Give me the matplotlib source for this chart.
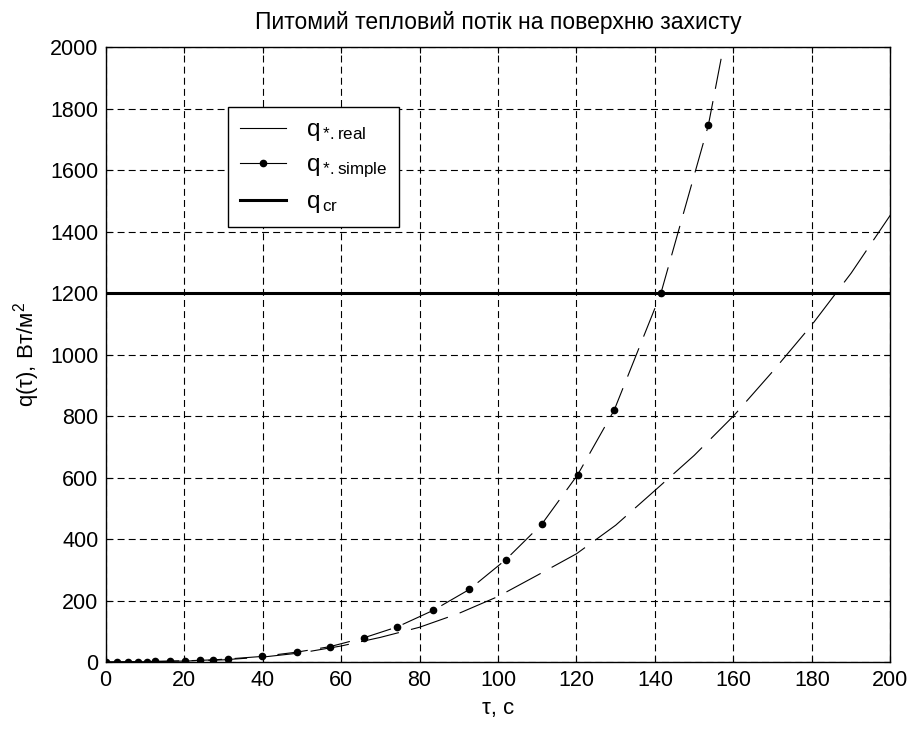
import numpy as np
import matplotlib
matplotlib.use('Agg')
import matplotlib.pyplot as plt
from matplotlib.lines import Line2D

# values
tau_simple = [0, 2.9, 5.8, 8.4, 10.5, 12.6, 16.4, 20.3, 24.1, 27.5, 31.3, 39.8,
              48.7, 57.2, 65.9, 74.3, 83.5, 92.7, 102.0, 111.2, 120.3, 129.6,
              141.5, 153.6, 165.7]
q_simple = [0, 0.3, 0.7, 1, 1.5, 2, 3, 4, 5.5, 7, 10, 18,
            32, 50, 79, 114, 168, 236, 333, 449, 609, 819,
            1199, 1746, 2550]

tau_real = [0, 10, 20, 30, 40, 50, 60, 70, 80, 90, 100, 110, 120, 130, 140,
            150, 160, 170, 180, 190, 200]
q_real = [0, 1, 3, 7, 16, 30, 52, 80, 113, 158, 213, 282, 352, 445, 558,
          672, 800, 945, 1097, 1265, 1454]

q_cr = 1200

x_ticks = list(range(0, 201, 20))
y_ticks = list(range(0, 2001, 200))

plt.rcParams['font.family'] = ['Liberation Sans', 'DejaVu Sans']
plt.rcParams['mathtext.default'] = 'regular'
plt.rcParams['lines.scale_dashes'] = False

fig = plt.figure(figsize=(9.12, 7.29), dpi=100)
ax = fig.add_axes([0.1157, 0.0919, 0.8607, 0.8436])

ax.plot(tau_real, q_real, color='black', lw=0.8, linestyle=(0, (28, 9)))
ax.plot(tau_simple, q_simple, color='black', lw=0.8, linestyle=(0, (22, 9)),
        marker='o', markersize=4.5)
ax.axhline(q_cr, color='black', lw=2.2)

ax.set_xlim(0, 200)
ax.set_ylim(0, 2000)
ax.set_xticks(x_ticks)
ax.set_yticks(y_ticks)
ax.grid(True, color='black', lw=0.8, linestyle=(0, (5, 3)))
ax.set_axisbelow(True)

ax.tick_params(direction='in', length=4.5, width=0.8, top=True, right=True,
               labelsize=15.5, colors='black')
ax.tick_params(axis='x', pad=6)
ax.tick_params(axis='y', pad=5)
for sp in ax.spines.values():
    sp.set_linewidth(1.0)

ax.set_title('Питомий тепловий потік на поверхню захисту', fontsize=16.5, pad=13)
ax.set_xlabel('τ, с', fontsize=16, labelpad=5)
ax.set_ylabel('q(τ), Вт/м$^2$', fontsize=16, labelpad=6)

handles = [
    Line2D([], [], color='black', lw=0.8),
    Line2D([], [], color='black', lw=0.8, marker='o', markersize=4.5),
    Line2D([], [], color='black', lw=2.2),
]
labels = [r'q$_{\,{*}.real}$', r'q$_{\,{*}.simple}$', r'q$_{\,cr}$']
leg = ax.legend(handles, labels, loc='upper left', bbox_to_anchor=(0.156, 0.902),
                borderaxespad=0, fancybox=False, edgecolor='black', framealpha=1,
                fontsize=17.5, handlelength=1.9, labelspacing=0.45,
                borderpad=0.5, handletextpad=0.8)
leg.get_frame().set_linewidth(1.0)

fig.savefig('out.png', dpi=100, facecolor='white')
